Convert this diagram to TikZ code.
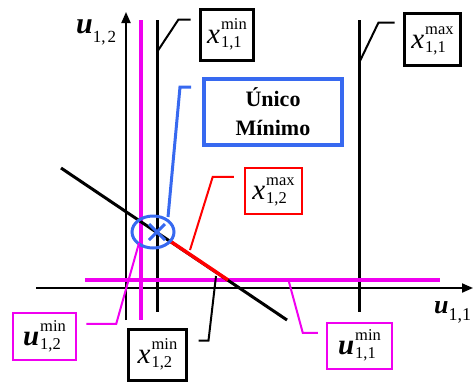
\documentclass[tikz,border=0pt]{standalone}
\usepackage{fontspec}
\setmainfont{Liberation Serif}
\usetikzlibrary{arrows.meta,calc}
\definecolor{mag}{RGB}{240,0,240}
\definecolor{bl}{RGB}{55,105,240}
\definecolor{rd}{RGB}{255,0,0}
% #1 letter, #2 sub, #3 sup
\newcommand{\lab}[3]{{\fontsize{29}{29}\selectfont #1}\kern1pt\raisebox{-4pt}{\fontsize{16.5}{18}\selectfont\begin{tabular}[b]{@{}l@{}}#3\\#2\end{tabular}}}
\begin{document}
\begin{tikzpicture}[x=1pt,y=-1pt,
  box/.style={draw, line width=3pt, inner sep=0pt, align=center},
  lead/.style={line width=2pt},
  axis/.style={line width=2pt,-{Triangle[length=11pt,width=9pt]}}]
\useasboundingbox (0,0) rectangle (473,383);
% axes
\coordinate (ax0) at (36,288); \coordinate (ax1) at (473,288);
\coordinate (ay0) at (126,320); \coordinate (ay1) at (126,12);
\draw[axis] (ax0) -- (ax1);
\draw[axis] (ay0) -- (ay1);
% black vertical limits
\coordinate (va0) at (157,20); \coordinate (va1) at (157,312);
\coordinate (vb0) at (359,20); \coordinate (vb1) at (359,312);
\draw[line width=3pt] (va0) -- (va1);
\draw[line width=3pt] (vb0) -- (vb1);
% magenta limits
\coordinate (ma0) at (141,20); \coordinate (ma1) at (141,320);
\coordinate (mh0) at (85,280); \coordinate (mh1) at (440,280);
\draw[mag, line width=4pt] (ma0) -- (ma1);
\draw[mag, line width=4pt] (mh0) -- (mh1);
% diagonal
\coordinate (d0) at (61,168); \coordinate (d1) at (287,320);
\draw[line width=3pt] (d0) -- (d1);
\coordinate (r0) at (170,241); \coordinate (r1) at (228,280);
\draw[rd, line width=3.5pt] (r0) -- (r1);
% minimum marker
\coordinate (mc) at (153,232);
\draw[bl, line width=3pt] (mc) ellipse [x radius=21, y radius=16];
\draw[bl, line width=3pt] (149,224) -- (165,240) (149,240) -- (165,224);
% axis labels
\node[anchor=base west, inner sep=0] (lu12) at (76,33) {{\fontsize{30}{30}\selectfont\textbf{\textit{u}}}\raisebox{-9pt}{\fontsize{17}{17}\selectfont 1,\kern2pt 2}};
\node[anchor=base west, inner sep=0] (lu11) at (434,313) {{\fontsize{26}{26}\selectfont\textbf{\textit{u}}}\raisebox{-7pt}{\fontsize{18}{18}\selectfont 1,1}};
% boxes
\node[box, minimum width=53pt, minimum height=51pt] (x11min) at (227,35) {\lab{\textit{x}}{1,1}{min}};
\node[box, minimum width=56pt, minimum height=52pt] (x11max) at (432.5,39.5) {\lab{\textit{x}}{1,1}{max}};
\node[box, draw=bl, line width=4pt, minimum width=138pt, minimum height=66pt, font=\fontsize{22}{29}\selectfont\bfseries] (unico) at (273,112) {Único\\ Mínimo};
\node[box, draw=rd, line width=2.5pt, minimum width=57pt, minimum height=46pt] (x12max) at (273.5,191) {\lab{\textit{x}}{1,2}{max}};
\node[box, draw=mag, line width=2.5pt, minimum width=63pt, minimum height=47pt] (u12min) at (44.5,336.5) {\lab{\textbf{\textit{u}}}{1,2}{min}};
\node[box, minimum width=58pt, minimum height=51pt] (x12min) at (157.5,355) {\lab{\textit{x}}{1,2}{min}};
\node[box, draw=mag, line width=2.5pt, minimum width=65pt, minimum height=46pt] (u11min) at (359.5,346) {\lab{\textbf{\textit{u}}}{1,1}{min}};
% leaders
\coordinate (s1) at (157,52);
\draw[lead] (s1) -- ($(x11min.north west)+(-20.5,11.5)$) -- ($(x11min.north west)+(-8.5,11.5)$);
\coordinate (s2) at (359,63);
\draw[lead] (s2) -- ($(x11max.north west)+(-24.5,10.5)$) -- ($(x11max.north west)+(-8.5,10.5)$);
\coordinate (s3) at (168,217);
\draw[lead, bl, line width=3pt] (s3) -- ($(unico.north west)+(-22,10)$) -- ($(unico.north west)+(-11,10)$);
\coordinate (s4) at (190,250);
\draw[lead, rd] (s4) -- ($(x12max.north west)+(-31,10)$) -- ($(x12max.north west)+(-10,10)$);
\coordinate (s5) at (139,243);
\draw[lead, mag] (s5) -- ($(u12min.north east)+(39,12)$) -- ($(u12min.north east)+(9,12)$);
\coordinate (s6) at (216,276);
\draw[lead] (s6) -- ($(x12min.north east)+(20.5,12.5)$) -- ($(x12min.north east)+(10.5,12.5)$);
\coordinate (s7) at (289,282);
\draw[lead, mag] (s7) -- ($(u11min.north west)+(-23,11)$) -- ($(u11min.north west)+(-8,11)$);
\end{tikzpicture}
\end{document}
